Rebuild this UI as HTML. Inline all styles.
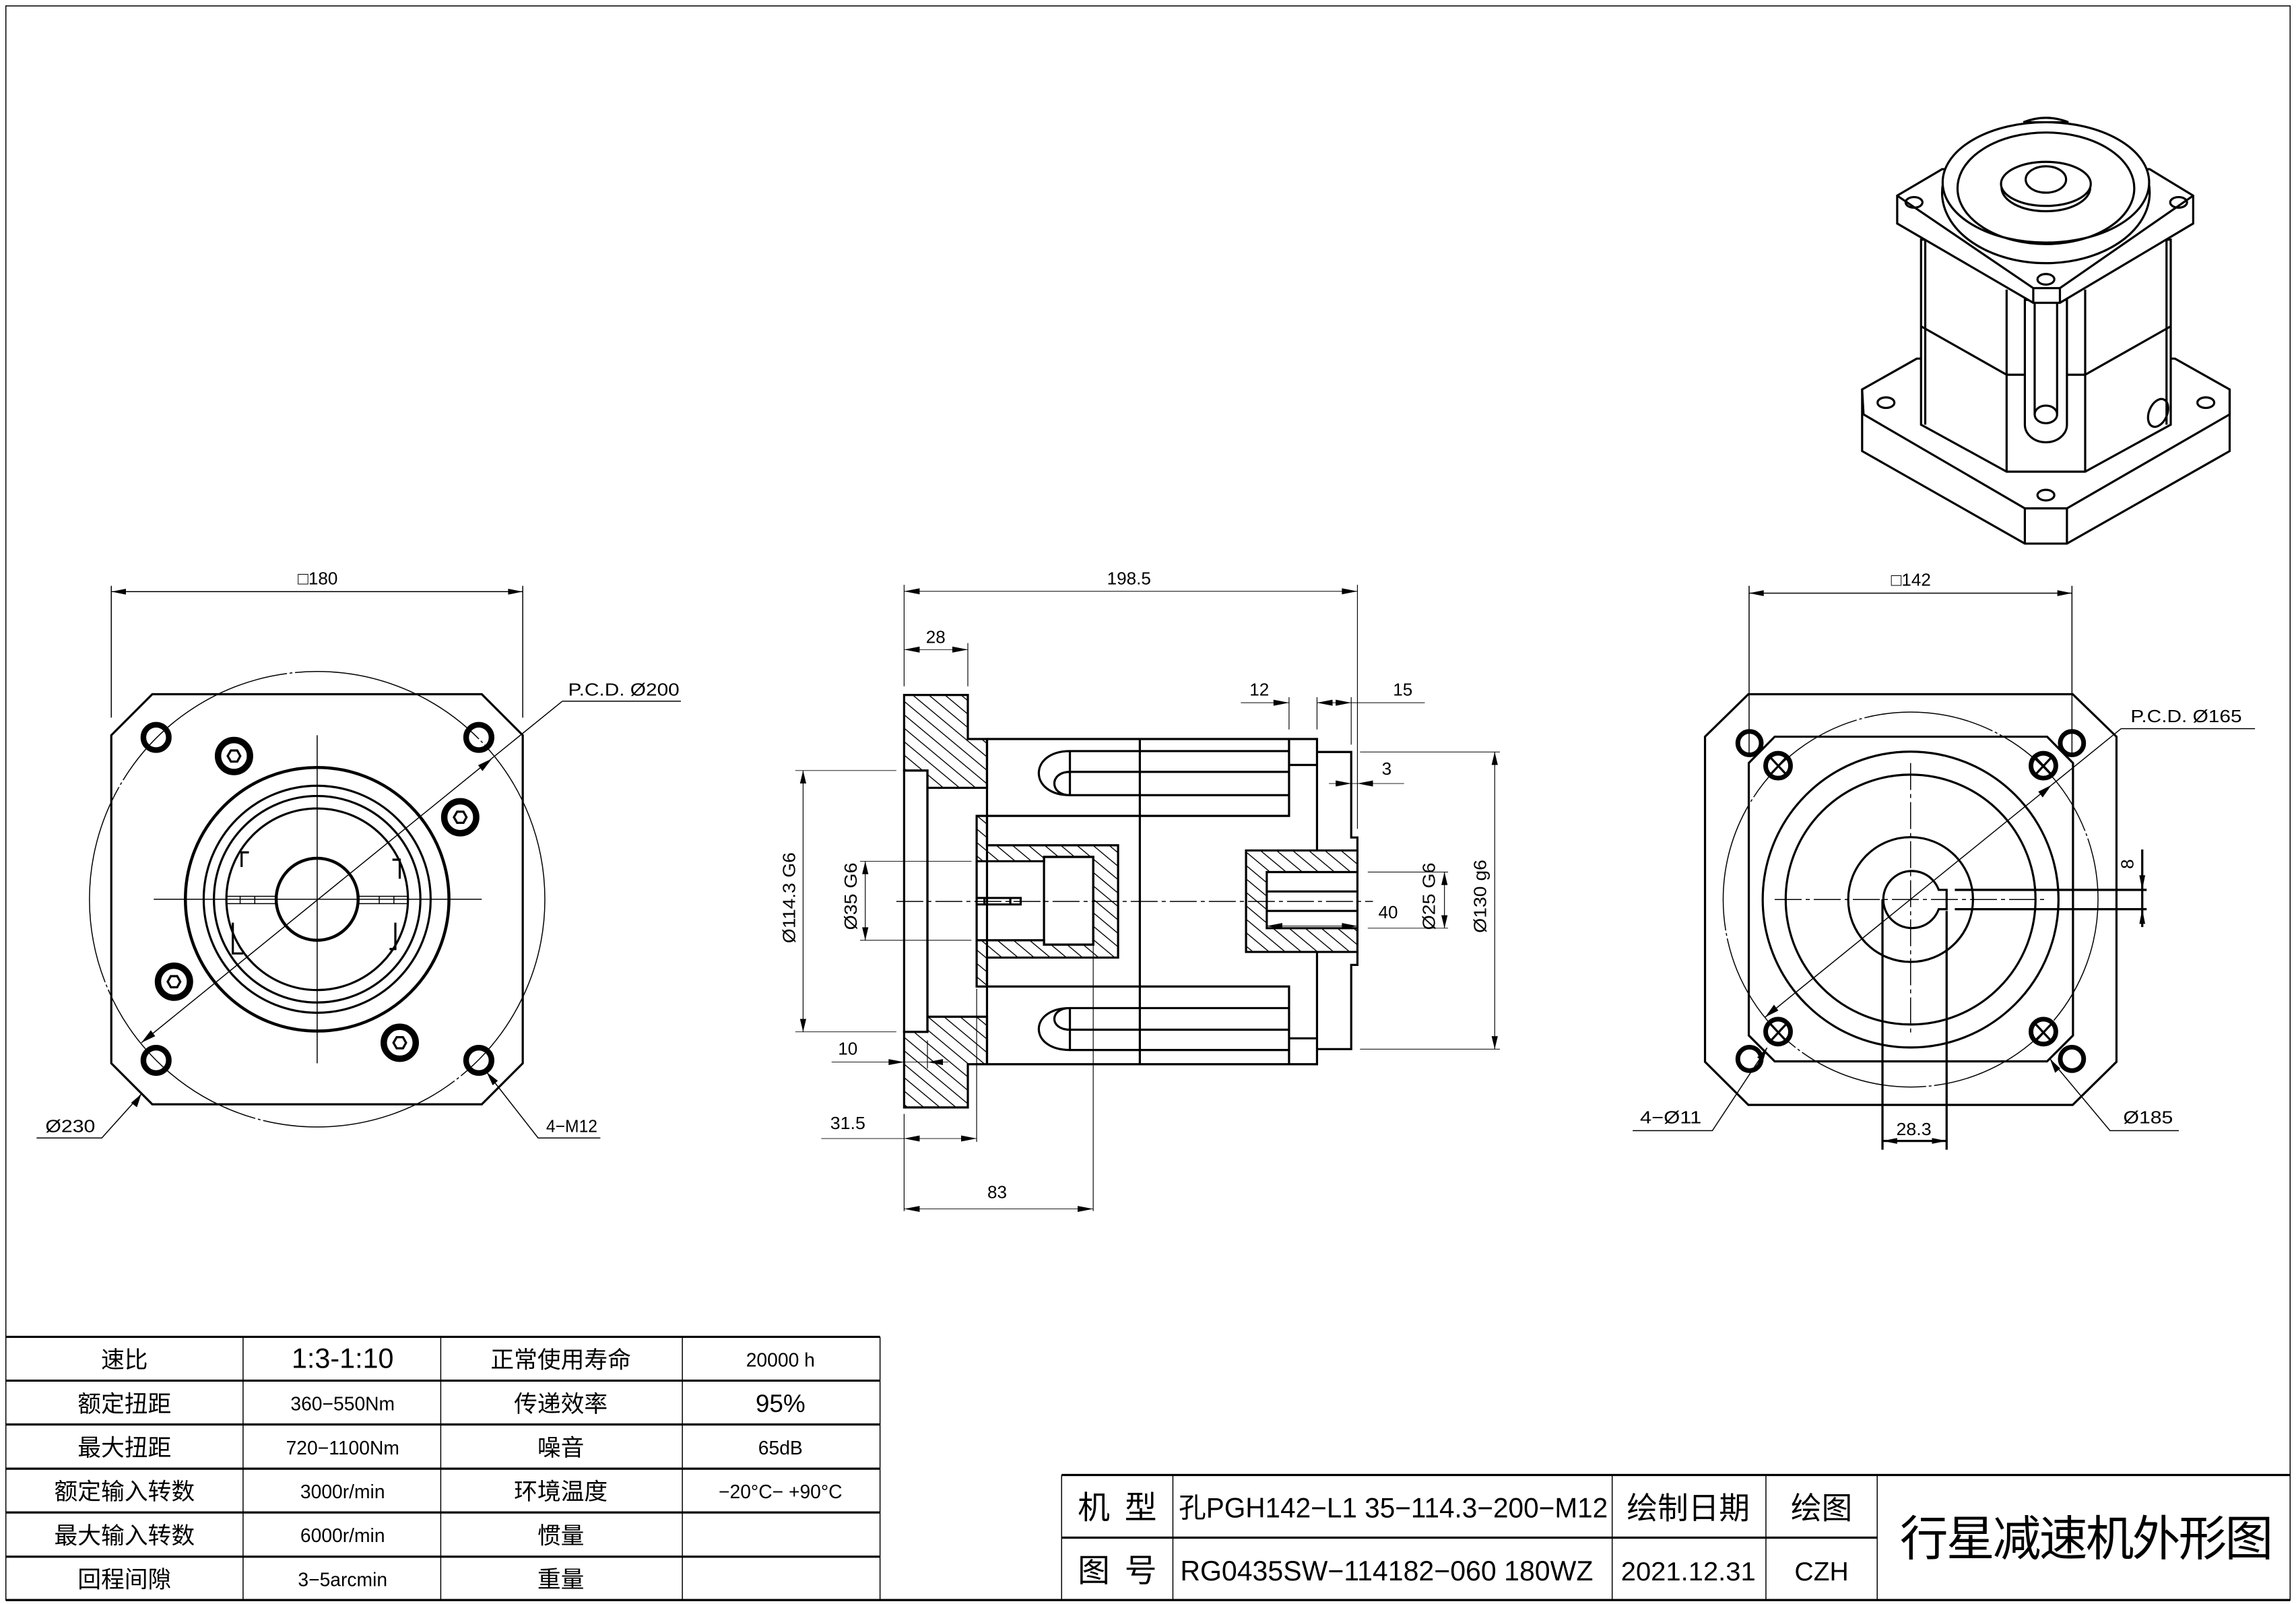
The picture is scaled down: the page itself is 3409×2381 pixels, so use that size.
<!DOCTYPE html>
<html><head><meta charset="utf-8"><style>
html,body{margin:0;padding:0;background:#fff;}
svg{display:block;}
text{font-family:"Liberation Sans","Noto Sans CJK SC",sans-serif;fill:#000;}
.k{fill:none;stroke:#000;stroke-width:3.2;vector-effect:non-scaling-stroke;}
.t{fill:none;stroke:#000;stroke-width:1.5;vector-effect:non-scaling-stroke;}
.w{fill:#fff;stroke:#000;stroke-width:3.2;vector-effect:non-scaling-stroke;}
.c{fill:none;stroke:#000;stroke-width:1.5;stroke-dasharray:40 6 6 6;vector-effect:non-scaling-stroke;}
.h{fill:url(#hat);stroke:#000;stroke-width:3.2;vector-effect:non-scaling-stroke;fill-rule:evenodd;}
.a{fill:#000;stroke:none;}
</style></head><body>
<svg width="3409" height="2381" viewBox="0 0 1568 1095.2" preserveAspectRatio="none" xmlns="http://www.w3.org/2000/svg">
<defs>
<pattern id="hat" patternUnits="userSpaceOnUse" width="22" height="22" patternTransform="rotate(-45)">
<line x1="0" y1="0" x2="0" y2="22" stroke="#000" stroke-width="4"/>
</pattern>
</defs>
<rect x="0" y="0" width="1568" height="1095.2" fill="#fff"/>
<rect x="4" y="4" width="1560" height="1088.5" class="t"/>
<line x1="4" y1="1092.5" x2="1564" y2="1092.5" class="k"/>

<!-- ============ LEFT VIEW ============ -->
<g>
<line x1="76" y1="400" x2="76" y2="490" class="t"/>
<line x1="357" y1="400" x2="357" y2="490" class="t"/>
<line x1="76" y1="404" x2="357" y2="404" class="t"/>
<polygon class="a" points="76,404 86,402 86,406"/><polygon class="a" points="357,404 347,402 347,406"/>
<text x="217" y="399" font-size="12" text-anchor="middle">□180</text>
<polygon class="k" points="104,474 329,474 357,502 357,726 329,754 104,754 76,726 76,502"/>
<circle cx="216.6" cy="614" r="155.5" class="t" stroke-dasharray="300 4 4 4"/>
<circle cx="216.6" cy="614" r="90" class="k" style="stroke-width:4.5"/>
<circle cx="216.6" cy="614" r="77.5" class="k"/>
<circle cx="216.6" cy="614" r="70.5" class="k"/>
<path class="k" d="M165,592 V582 H170 M268,587 H273 V600 M159,630 V651 H166 M270,630 V648 H266"/>
<circle cx="216.6" cy="614" r="62" class="k"/>
<path class="t" d="M155,612 H188 M245,612 H278 M155,617 H188 M245,617 H278 M164,612 V617 M174,612 V617 M259,612 V617 M269,612 V617"/>
<circle cx="216.6" cy="614" r="28" class="k" style="stroke-width:4.5"/>
<line x1="105" y1="614" x2="329" y2="614" class="t"/>
<line x1="216.6" y1="502" x2="216.6" y2="726" class="t"/>
<g class="k">
<circle cx="106.6" cy="503.5" r="9"/><circle cx="327" cy="503.5" r="9"/><circle cx="106.6" cy="724" r="9"/><circle cx="327" cy="724" r="9"/>
</g>
<g class="t">
<circle cx="106.6" cy="503.5" r="7.5"/><circle cx="327" cy="503.5" r="7.5"/><circle cx="106.6" cy="724" r="7.5"/><circle cx="327" cy="724" r="7.5"/>
</g>
<g class="k">
<circle cx="159.8" cy="516.2" r="11.5"/><circle cx="314.3" cy="558" r="11.5"/><circle cx="118.8" cy="670.3" r="11.5"/><circle cx="273" cy="712" r="11.5"/>
</g>
<g class="t">
<circle cx="159.8" cy="516.2" r="9.5"/><circle cx="314.3" cy="558" r="9.5"/><circle cx="118.8" cy="670.3" r="9.5"/><circle cx="273" cy="712" r="9.5"/>
<polygon points="155.5,516.2 157.7,512.4 162,512.4 164.1,516.2 162,520 157.7,520"/>
<polygon points="310,558 312.2,554.2 316.5,554.2 318.6,558 316.5,561.8 312.2,561.8"/>
<polygon points="114.5,670.3 116.7,666.5 121,666.5 123.1,670.3 121,674.1 116.7,674.1"/>
<polygon points="268.7,712 270.9,708.2 275.2,708.2 277.3,712 275.2,715.8 270.9,715.8"/>
</g>
<line x1="96.5" y1="712" x2="384" y2="478.8" class="t"/>
<line x1="384" y1="478.8" x2="465" y2="478.8" class="t"/>
<polygon class="a" points="96.5,712 103,703.5 106,707.5"/>
<polygon class="a" points="336,518 326.5,522.5 329.5,526.5"/>
<text x="388" y="475" font-size="12" textLength="76" lengthAdjust="spacingAndGlyphs">P.C.D. Ø200</text>
<polyline points="96.5,747 69.5,777 25,777" class="t"/>
<polygon class="a" points="96.5,747 93.5,756 89.5,753"/>
<text x="31" y="773" font-size="12" textLength="34" lengthAdjust="spacingAndGlyphs">Ø230</text>
<polyline points="332.3,732 367.5,777 410,777" class="t"/>
<polygon class="a" points="332.3,732 340,738 336.5,741"/>
<text x="373" y="773" font-size="12" textLength="35" lengthAdjust="spacingAndGlyphs">4−M12</text>
</g>

<!-- ============ MIDDLE VIEW ============ -->
<g transform="translate(506,377.2) scale(0.3538,0.2949)">
<path class="h" d="M315,330 H438 V432 H475 V545 H360 V505 H315 Z"/>
<path class="h" d="M315,1285 H438 V1185 H475 V1075 H360 V1110 H315 Z"/>
<rect x="315" y="505" width="45" height="605" class="k"/>
<path class="h" d="M455,610 H475 V678 H728 V938 H475 V1005 H455 Z M455,715 H585 V705 H680 V908 H585 V898 H455 Z"/>
<rect x="585" y="705" width="95" height="203" class="k"/>
<path class="k" d="M455,800 H540 V815 H455 M470,800 V815 M520,800 V815"/>
<path class="h" d="M975,690 H1190 V925 H975 Z M1015,740 H1190 V870 H1015 Z"/>
<path class="k" d="M1015,785 H1190 M1015,830 H1190"/>
<path class="k" d="M475,432 H1112 V690 M475,1185 H1112 V925 M475,610 H1058 V432 M1058,492 H1112 M475,1005 H1058 V1185 M1058,1125 H1112 M475,432 V1185 M360,545 V1075"/>
<path class="k" d="M1112,462 H1178 V660 H1190 V690 M1112,1150 H1178 V955 H1190 V925"/>
<path class="k" d="M635,460 H1058 M635,508 H1058 M635,562 H1058 M635,460 V562 M635,460 C555,460 555,562 635,562 M635,508 C595,508 595,562 635,562"/>
<path class="k" d="M635,1055 H1058 M635,1105 H1058 M635,1152 H1058 M635,1055 V1152 M635,1055 C555,1055 555,1152 635,1152 M635,1055 C595,1055 595,1105 635,1105"/>
<line x1="770" y1="432" x2="770" y2="1185" class="k"/>
<line x1="300" y1="808" x2="1220" y2="808" class="c"/>
<g class="t">
<path d="M315,75 V310 M1190,75 V640 M315,90 H1190"/>
<path d="M438,210 V310 M315,225 H438"/>
<path d="M965,348 H1058 M1058,335 V410 M1112,335 V410 M1112,348 H1320 M1178,335 V445"/>
<path d="M1135,535 H1280"/>
<path d="M1195,462 H1465 M1195,1150 H1465 M1455,462 V1150"/>
<path d="M1210,740 H1365 M1210,870 H1365 M1358,740 V870"/>
<path d="M1015,865 H1190"/>
<path d="M105,505 H300 M105,1110 H300 M120,505 V1110"/>
<path d="M230,715 H445 M230,898 H445 M240,715 V898"/>
<path d="M175,1180 H400 M360,1130 V1195"/>
<path d="M155,1357 H455 M315,1300 V1525 M455,1010 V1365"/>
<path d="M315,1520 H680 M680,905 V1525"/>
</g>
<g class="a">
<polygon points="315,90 345,83 345,97"/><polygon points="1190,90 1160,83 1160,97"/>
<polygon points="315,225 345,218 345,232"/><polygon points="438,225 408,218 408,232"/>
<polygon points="1058,348 1028,341 1028,355"/><polygon points="1112,348 1142,341 1142,355"/><polygon points="1178,348 1148,341 1148,355"/>
<polygon points="1178,535 1148,528 1148,542"/><polygon points="1190,535 1220,528 1220,542"/>
<polygon points="1455,462 1449,492 1461,492"/><polygon points="1455,1150 1449,1120 1461,1120"/>
<polygon points="1358,740 1352,770 1364,770"/><polygon points="1358,870 1352,840 1364,840"/>
<polygon points="1015,865 1045,858 1045,872"/><polygon points="1190,865 1160,858 1160,872"/>
<polygon points="120,505 114,535 126,535"/><polygon points="120,1110 114,1080 126,1080"/>
<polygon points="240,715 234,745 246,745"/><polygon points="240,898 234,868 246,868"/>
<polygon points="315,1180 285,1173 285,1187"/><polygon points="360,1180 390,1173 390,1187"/>
<polygon points="315,1357 345,1350 345,1364"/><polygon points="455,1357 425,1350 425,1364"/>
<polygon points="315,1520 345,1513 345,1527"/><polygon points="680,1520 650,1513 650,1527"/>
</g>
</g>
<g font-size="12">
<text x="771" y="399" text-anchor="middle" textLength="30" lengthAdjust="spacingAndGlyphs">198.5</text>
<text x="639" y="439" text-anchor="middle">28</text>
<text x="860" y="475" text-anchor="middle">12</text>
<text x="958" y="475" text-anchor="middle">15</text>
<text x="947" y="529" text-anchor="middle">3</text>
<text x="948" y="627" text-anchor="middle">40</text>
<text x="579" y="720" text-anchor="middle">10</text>
<text x="579" y="771" text-anchor="middle" textLength="24" lengthAdjust="spacingAndGlyphs">31.5</text>
<text x="681" y="818" text-anchor="middle">83</text>
<text transform="translate(543,613) rotate(-90)" text-anchor="middle" textLength="62" lengthAdjust="spacingAndGlyphs">Ø114.3 G6</text>
<text transform="translate(585,612) rotate(-90)" text-anchor="middle" textLength="46" lengthAdjust="spacingAndGlyphs">Ø35 G6</text>
<text transform="translate(980,612) rotate(-90)" text-anchor="middle" textLength="46" lengthAdjust="spacingAndGlyphs">Ø25 G6</text>
<text transform="translate(1015,612) rotate(-90)" text-anchor="middle" textLength="50" lengthAdjust="spacingAndGlyphs">Ø130 g6</text>
</g>

<!-- ============ RIGHT VIEW ============ -->
<g>
<line x1="1194.5" y1="400" x2="1194.5" y2="515" class="t"/>
<line x1="1415" y1="400" x2="1415" y2="515" class="t"/>
<line x1="1194.5" y1="405" x2="1415" y2="405" class="t"/>
<polygon class="a" points="1194.5,405 1204.5,403 1204.5,407"/><polygon class="a" points="1415,405 1405,403 1405,407"/>
<text x="1305" y="400" font-size="12" text-anchor="middle">□142</text>
<polygon class="k" points="1194,474 1415.5,474 1445.4,503 1445.4,725 1415.5,754.4 1194,754.4 1164.4,725 1164.4,503"/>
<polygon class="k" points="1212,503 1398,503 1415.7,521 1415.7,707 1398,724.7 1212,724.7 1194.3,707 1194.3,521"/>
<circle cx="1304.8" cy="614.2" r="128" class="t" stroke-dasharray="195 4 4 4"/>
<circle cx="1304.8" cy="614.2" r="101" class="k"/>
<circle cx="1304.8" cy="614.2" r="85.3" class="k"/>
<circle cx="1304.8" cy="614.2" r="42.6" class="k"/>
<path class="k" d="M1324,607.6 A19.5,19.5 0 1 0 1324,620.8 H1329.4 V607.6 Z"/>
<line x1="1212" y1="614.2" x2="1398" y2="614.2" class="c"/>
<line x1="1304.8" y1="521" x2="1304.8" y2="707" class="c"/>
<g class="k">
<circle cx="1194.8" cy="507.4" r="8"/><circle cx="1415" cy="507.4" r="8"/><circle cx="1194.8" cy="723" r="8"/><circle cx="1415" cy="723" r="8"/>
<circle cx="1214.3" cy="522.8" r="8.5"/><circle cx="1395.5" cy="522.8" r="8.5"/><circle cx="1214.3" cy="704.4" r="8.5"/><circle cx="1395.5" cy="704.4" r="8.5"/>
</g>
<g class="t">
<path d="M1208,516 L1221,530 M1221,516 L1208,530 M1389,516 L1402,530 M1402,516 L1389,530 M1208,698 L1221,712 M1221,698 L1208,712 M1389,698 L1402,712 M1402,698 L1389,712"/>
<path d="M1335,607.6 H1466 M1335,620.8 H1466 M1463,580 V633"/>
<path d="M1285.6,614 V785 M1329.4,622 V785 M1285.6,779 H1329.4"/>
</g>
<g class="a">
<polygon points="1463,607.6 1461,597.6 1465,597.6"/><polygon points="1463,620.8 1461,630.8 1465,630.8"/>
<polygon points="1285.6,779 1295.6,777 1295.6,781"/><polygon points="1329.4,779 1319.4,777 1319.4,781"/>
</g>
<text transform="translate(1457,590) rotate(-90)" font-size="12" text-anchor="middle">8</text>
<text x="1307" y="775" font-size="12" text-anchor="middle" textLength="24" lengthAdjust="spacingAndGlyphs">28.3</text>
<line x1="1205.5" y1="694.5" x2="1448.6" y2="497.5" class="t"/>
<line x1="1448.6" y1="497.5" x2="1540" y2="497.5" class="t"/>
<polygon class="a" points="1205.5,694.5 1211.5,686 1214.5,690"/>
<polygon class="a" points="1401,536 1392,540.5 1395,544.5"/>
<text x="1455" y="493" font-size="12" textLength="76" lengthAdjust="spacingAndGlyphs">P.C.D. Ø165</text>
<polyline points="1206.8,715.4 1169.4,772 1115,772" class="t"/>
<polygon class="a" points="1206.8,715.4 1204,724.5 1200,722"/>
<text x="1120" y="767" font-size="12" textLength="42" lengthAdjust="spacingAndGlyphs">4−Ø11</text>
<polyline points="1400,723 1441,772 1488,772" class="t"/>
<polygon class="a" points="1400,723 1407,729.5 1403.5,732.5"/>
<text x="1450" y="767" font-size="12" textLength="34" lengthAdjust="spacingAndGlyphs">Ø185</text>
</g>

<!-- ============ ISO VIEW ============ -->
<g transform="translate(1242,64.4) scale(0.1916,0.2005)">
<path class="w" d="M350,900 L155,1005 V1215 L735,1530 H885 L1465,1215 V1005 L1270,900 Z"/>
<path class="k" d="M160,1090 L735,1410 H885 L1465,1090 M735,1410 V1530 M885,1410 V1530 M155,1005 L160,1090 M1465,1005 V1090"/>
<ellipse cx="240" cy="1050" rx="30" ry="18" class="k"/><ellipse cx="1380" cy="1050" rx="30" ry="18" class="k"/><ellipse cx="810" cy="1365" rx="30" ry="18" class="k"/>
<path class="w" d="M365,495 V1125 L670,1285 H950 L1255,1125 V495 Z"/>
<path class="k" d="M380,495 V1125 M1240,495 V1125 M365,790 L670,955 H950 L1255,790 M670,665 V1285 M950,665 V1285"/>
<path class="w" d="M735,700 V1125 A75,60 0 0 0 885,1125 V700 Z"/>
<path class="k" d="M770,710 V1090 M850,710 V1090"/>
<ellipse cx="810" cy="1090" rx="40" ry="30" class="k"/>
<ellipse cx="1210" cy="1085" rx="32" ry="50" transform="rotate(25 1210 1085)" class="k"/>
<path class="w" d="M280,345 L440,255 H1180 L1335,345 V440 L860,710 H765 L280,440 Z"/>
<path class="k" d="M280,345 L765,660 H860 L1335,345 M765,660 V710 M860,660 V710"/>
<ellipse cx="340" cy="368" rx="30" ry="18" class="k"/><ellipse cx="1283" cy="368" rx="30" ry="18" class="k"/><ellipse cx="810" cy="630" rx="30" ry="18" class="k"/>
<ellipse cx="810" cy="335" rx="370" ry="240" class="w"/>
<ellipse cx="810" cy="300" rx="368" ry="205" class="w"/>
<ellipse cx="810" cy="320" rx="315" ry="190" class="k"/>
<path class="w" d="M730,95 Q810,65 890,95 Z"/>
<ellipse cx="810" cy="318" rx="158" ry="80" class="w"/>
<ellipse cx="810" cy="305" rx="160" ry="75" class="w"/>
<ellipse cx="810" cy="290" rx="72" ry="45" class="k"/>
</g>

<!-- ============ PARAMETER TABLE ============ -->
<g>
<path class="k" d="M4,912.8 H601 M4,942.7 H601 M4,972.6 H601 M4,1002.8 H601 M4,1032.7 H601 M4,1062.9 H601"/>
<path class="t" d="M166,912.8 V1092.5 M301,912.8 V1092.5 M466,912.8 V1092.5 M601,912.8 V1092.5"/>
<g font-size="16" text-anchor="middle">
<text x="85" y="934">速比</text>
<text x="234" y="934" font-size="19">1:3-1:10</text>
<text x="383" y="934">正常使用寿命</text>
<text x="533" y="933" font-size="13">20000 h</text>
<text x="85" y="964">额定扭距</text>
<text x="234" y="963" font-size="13">360−550Nm</text>
<text x="383" y="964">传递效率</text>
<text x="533" y="964" font-size="17">95%</text>
<text x="85" y="994">最大扭距</text>
<text x="234" y="993" font-size="13">720−1100Nm</text>
<text x="383" y="994">噪音</text>
<text x="533" y="993" font-size="13">65dB</text>
<text x="85" y="1024">额定输入转数</text>
<text x="234" y="1023" font-size="13">3000r/min</text>
<text x="383" y="1024">环境温度</text>
<text x="533" y="1023" font-size="13">−20°C− +90°C</text>
<text x="85" y="1054">最大输入转数</text>
<text x="234" y="1053" font-size="13">6000r/min</text>
<text x="383" y="1054">惯量</text>
<text x="85" y="1084">回程间隙</text>
<text x="234" y="1083" font-size="13">3−5arcmin</text>
<text x="383" y="1084">重量</text>
</g>
</g>

<!-- ============ TITLE BLOCK ============ -->
<g>
<path class="k" d="M725,1007.1 H1564 M725,1049.9 H1282"/>
<path class="t" d="M725,1007.1 V1092.5 M801,1007.1 V1092.5 M1101,1007.1 V1092.5 M1206,1007.1 V1092.5 M1282,1007.1 V1092.5"/>
<g font-size="22" text-anchor="middle">
<text x="763" y="1037" textLength="54" lengthAdjust="spacing">机 型</text>
<text x="763" y="1080" textLength="54" lengthAdjust="spacing">图 号</text>
<text x="1153" y="1037" font-size="21" textLength="84" lengthAdjust="spacing">绘制日期</text>
<text x="1244" y="1037" font-size="21">绘图</text>
<text x="1425" y="1062" font-size="33" textLength="255" lengthAdjust="spacing">行星减速机外形图</text>
</g>
<text x="805" y="1036" font-size="19" textLength="293" lengthAdjust="spacingAndGlyphs">孔PGH142−L1 35−114.3−200−M12</text>
<text x="806" y="1079" font-size="19" textLength="282" lengthAdjust="spacingAndGlyphs">RG0435SW−114182−060 180WZ</text>
<text x="1153" y="1079" font-size="18" text-anchor="middle" textLength="92" lengthAdjust="spacingAndGlyphs">2021.12.31</text>
<text x="1244" y="1079" font-size="18" text-anchor="middle">CZH</text>
</g>
</svg>
</body></html>
